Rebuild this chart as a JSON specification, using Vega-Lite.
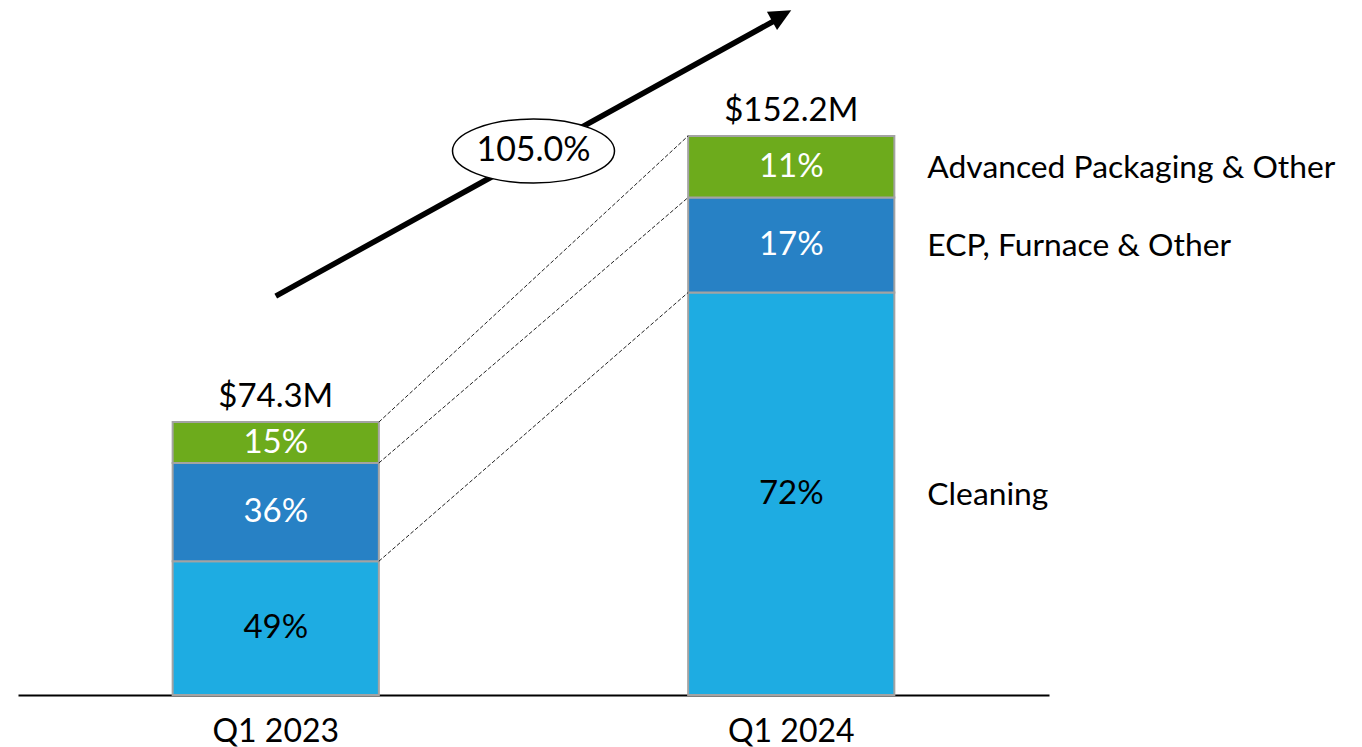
{
  "$schema": "https://vega.github.io/schema/vega-lite/v6.json",
  "width": 1031,
  "height": 695,
  "autosize": "none",
  "padding": {"left": 18, "top": 0, "right": 313, "bottom": 52},
  "background": "white",
  "config": {
    "view": {"stroke": null},
    "font": "Lato",
    "axisX": {
      "title": null,
      "domainColor": "#000000",
      "domainWidth": 2,
      "ticks": false,
      "grid": false,
      "labelAngle": 0,
      "labelFont": "Lato",
      "labelFontSize": 32,
      "labelColor": "#000000",
      "labelPadding": 21
    }
  },
  "datasets": {
    "segments": [
      {"quarter": "Q1 2023", "segment": "Cleaning", "ord": 1, "pct": "49%", "value": 36.41},
      {"quarter": "Q1 2023", "segment": "ECP, Furnace & Other", "ord": 2, "pct": "36%", "value": 26.75},
      {"quarter": "Q1 2023", "segment": "Advanced Packaging & Other", "ord": 3, "pct": "15%", "value": 11.14},
      {"quarter": "Q1 2024", "segment": "Cleaning", "ord": 1, "pct": "72%", "value": 109.58},
      {"quarter": "Q1 2024", "segment": "ECP, Furnace & Other", "ord": 2, "pct": "17%", "value": 25.87},
      {"quarter": "Q1 2024", "segment": "Advanced Packaging & Other", "ord": 3, "pct": "11%", "value": 16.75}
    ],
    "totals": [
      {"quarter": "Q1 2023", "total": 74.3, "label": "$74.3M"},
      {"quarter": "Q1 2024", "total": 152.2, "label": "$152.2M"}
    ],
    "links": [
      {"quarter": "Q1 2023", "to": "Q1 2024", "y_from": 74.3, "y_to": 152.2},
      {"quarter": "Q1 2023", "to": "Q1 2024", "y_from": 63.16, "y_to": 135.45},
      {"quarter": "Q1 2023", "to": "Q1 2024", "y_from": 36.41, "y_to": 109.58}
    ],
    "growth": [
      {"quarter": "Q1 2023", "to": "Q1 2024", "start": 108.6, "end": 184.1, "tip": 186.4, "mid": 148.1, "label": "105.0%"}
    ]
  },
  "layer": [
    {
      "data": {"name": "segments"},
      "transform": [
        {"stack": "value", "groupby": ["quarter"], "sort": [{"field": "ord", "order": "ascending"}], "as": ["y0", "y1"]}
      ],
      "mark": {"type": "bar", "stroke": "#a3a3a3", "strokeWidth": 2},
      "encoding": {
        "x": {"field": "quarter", "type": "nominal", "scale": {"type": "band", "domain": ["Q1 2023", "Q1 2024"], "paddingInner": 0.6, "paddingOuter": 0.3}, "axis": {}},
        "y": {"field": "y0", "type": "quantitative", "scale": {"domain": [0, 189.2], "nice": false, "zero": true}, "axis": null},
        "y2": {"field": "y1"},
        "color": {
          "field": "segment",
          "type": "nominal",
          "scale": {"domain": ["Cleaning", "ECP, Furnace & Other", "Advanced Packaging & Other"], "range": ["#1eace2", "#2781c5", "#6dab1c"]},
          "legend": null
        }
      }
    },
    {
      "data": {"name": "segments"},
      "transform": [
        {"stack": "value", "groupby": ["quarter"], "sort": [{"field": "ord", "order": "ascending"}], "as": ["y0", "y1"]},
        {"calculate": "(datum.y0 + datum.y1) / 2", "as": "ymid"}
      ],
      "mark": {"type": "text", "fontSize": 33, "font": "Lato", "align": "center", "baseline": "middle"},
      "encoding": {
        "x": {"field": "quarter", "type": "nominal", "scale": {"type": "band", "domain": ["Q1 2023", "Q1 2024"], "paddingInner": 0.6, "paddingOuter": 0.3}},
        "y": {"field": "ymid", "type": "quantitative", "scale": {"domain": [0, 189.2], "nice": false, "zero": true}, "axis": null},
        "text": {"field": "pct"},
        "color": {"condition": {"test": "datum.segment === 'Cleaning'", "value": "#000000"}, "value": "#ffffff"}
      }
    },
    {
      "data": {"name": "segments"},
      "transform": [
        {"stack": "value", "groupby": ["quarter"], "sort": [{"field": "ord", "order": "ascending"}], "as": ["y0", "y1"]},
        {"calculate": "(datum.y0 + datum.y1) / 2", "as": "ymid"},
        {"filter": "datum.quarter === 'Q1 2024'"}
      ],
      "mark": {"type": "text", "fontSize": 31.8, "font": "Lato", "align": "left", "baseline": "middle", "dx": 33, "dy": 1, "color": "#000000"},
      "encoding": {
        "x": {"field": "quarter", "type": "nominal", "bandPosition": 1, "scale": {"type": "band", "domain": ["Q1 2023", "Q1 2024"], "paddingInner": 0.6, "paddingOuter": 0.3}},
        "y": {"field": "ymid", "type": "quantitative", "scale": {"domain": [0, 189.2], "nice": false, "zero": true}, "axis": null},
        "text": {"field": "segment"}
      }
    },
    {
      "data": {"name": "totals"},
      "mark": {"type": "text", "fontSize": 33, "font": "Lato", "align": "center", "baseline": "alphabetic", "dy": -15, "color": "#000000"},
      "encoding": {
        "x": {"field": "quarter", "type": "nominal", "scale": {"type": "band", "domain": ["Q1 2023", "Q1 2024"], "paddingInner": 0.6, "paddingOuter": 0.3}},
        "y": {"field": "total", "type": "quantitative", "scale": {"domain": [0, 189.2], "nice": false, "zero": true}, "axis": null},
        "text": {"field": "label"}
      }
    },
    {
      "data": {"name": "links"},
      "mark": {"type": "rule", "stroke": "#222222", "strokeWidth": 1, "strokeDash": [4, 2]},
      "encoding": {
        "x": {"field": "quarter", "type": "nominal", "bandPosition": 1, "scale": {"type": "band", "domain": ["Q1 2023", "Q1 2024"], "paddingInner": 0.6, "paddingOuter": 0.3}},
        "x2": {"field": "to", "bandPosition": 0},
        "y": {"field": "y_from", "type": "quantitative", "scale": {"domain": [0, 189.2], "nice": false, "zero": true}, "axis": null},
        "y2": {"field": "y_to"}
      }
    },
    {
      "data": {"name": "growth"},
      "mark": {"type": "rule", "stroke": "#000000", "strokeWidth": 5.5, "strokeCap": "butt"},
      "encoding": {
        "x": {"field": "quarter", "type": "nominal", "scale": {"type": "band", "domain": ["Q1 2023", "Q1 2024"], "paddingInner": 0.6, "paddingOuter": 0.3}},
        "x2": {"field": "to", "bandPosition": 0.436},
        "y": {"field": "start", "type": "quantitative", "scale": {"domain": [0, 189.2], "nice": false, "zero": true}, "axis": null},
        "y2": {"field": "end"}
      }
    },
    {
      "data": {"name": "growth"},
      "mark": {"type": "point", "shape": "M0,0L-0.95,2L0.95,2Z", "size": 484, "filled": true, "color": "#000000", "opacity": 1, "angle": 61.1},
      "encoding": {
        "x": {"field": "to", "type": "nominal", "scale": {"type": "band", "domain": ["Q1 2023", "Q1 2024"], "paddingInner": 0.6, "paddingOuter": 0.3}},
        "y": {"field": "tip", "type": "quantitative", "scale": {"domain": [0, 189.2], "nice": false, "zero": true}, "axis": null}
      }
    },
    {
      "data": {"name": "growth"},
      "mark": {"type": "point", "shape": "M-1,0C-1,-0.218,-0.552,-0.395,0,-0.395C0.552,-0.395,1,-0.218,1,0C1,0.218,0.552,0.395,0,0.395C-0.552,0.395,-1,0.218,-1,0Z", "size": 26244, "filled": false, "fill": "#ffffff", "fillOpacity": 1, "stroke": "#000000", "strokeWidth": 1.5, "opacity": 1},
      "encoding": {
        "x": {"field": "quarter", "type": "nominal", "bandPosition": 1.75, "scale": {"type": "band", "domain": ["Q1 2023", "Q1 2024"], "paddingInner": 0.6, "paddingOuter": 0.3}},
        "y": {"field": "mid", "type": "quantitative", "scale": {"domain": [0, 189.2], "nice": false, "zero": true}, "axis": null}
      }
    },
    {
      "data": {"name": "growth"},
      "mark": {"type": "text", "fontSize": 34, "font": "Lato", "align": "center", "baseline": "middle", "color": "#000000"},
      "encoding": {
        "x": {"field": "quarter", "type": "nominal", "bandPosition": 1.75, "scale": {"type": "band", "domain": ["Q1 2023", "Q1 2024"], "paddingInner": 0.6, "paddingOuter": 0.3}},
        "y": {"field": "mid", "type": "quantitative", "scale": {"domain": [0, 189.2], "nice": false, "zero": true}, "axis": null},
        "text": {"field": "label"}
      }
    }
  ]
}
